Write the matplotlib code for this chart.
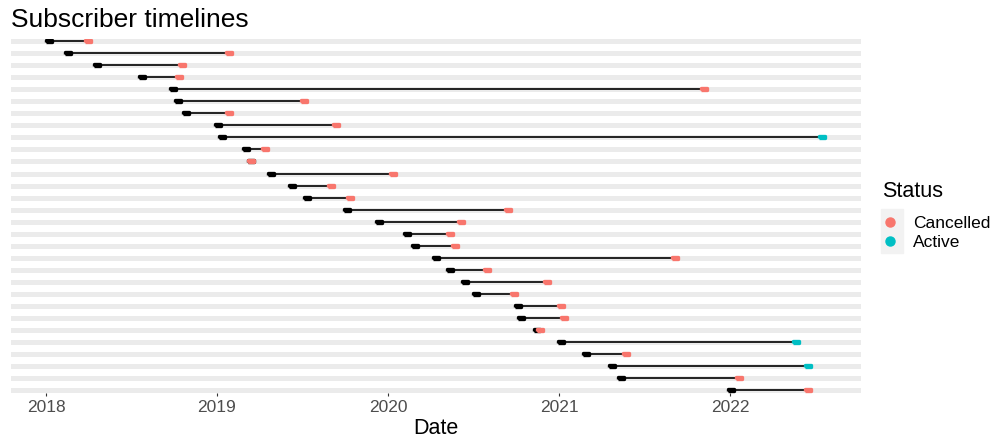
import pandas as pd
import numpy as np
import matplotlib
matplotlib.use('Agg')
import matplotlib.pyplot as plt
import matplotlib.dates as mdates
from matplotlib.markers import MarkerStyle
from matplotlib.lines import Line2D
from matplotlib.patches import Rectangle

plt.rcParams['font.family'] = ['Liberation Sans', 'DejaVu Sans']

# one row per subscriber, top to bottom
start_dates = ['2018-01-08', '2018-02-17', '2018-04-20', '2018-07-24', '2018-09-28',
               '2018-10-09', '2018-10-27', '2019-01-04', '2019-01-12', '2019-03-04',
               '2019-03-15', '2019-04-27', '2019-06-10', '2019-07-13', '2019-10-05',
               '2019-12-13', '2020-02-10', '2020-02-28', '2020-04-12', '2020-05-12',
               '2020-06-14', '2020-07-06', '2020-10-05', '2020-10-12', '2020-11-14',
               '2021-01-04', '2021-02-28', '2021-04-23', '2021-05-12', '2022-01-02']
end_dates = ['2018-04-01', '2019-01-26', '2018-10-19', '2018-10-12', '2021-11-06',
             '2019-07-05', '2019-01-26', '2019-09-13', '2022-07-16', '2019-04-13',
             '2019-03-15', '2020-01-12', '2019-09-02', '2019-10-12', '2020-09-13',
             '2020-06-06', '2020-05-12', '2020-05-23', '2021-09-06', '2020-07-31',
             '2020-12-06', '2020-09-27', '2021-01-04', '2021-01-12', '2020-11-21',
             '2022-05-22', '2021-05-23', '2022-06-17', '2022-01-19', '2022-06-17']
status = ['Cancelled'] * 8 + ['Active'] + ['Cancelled'] * 16 + ['Active', 'Cancelled',
          'Active', 'Cancelled', 'Cancelled']

status_colors = {'Cancelled': '#F8766D', 'Active': '#00BFC4'}

df = pd.DataFrame({'start': pd.to_datetime(start_dates),
                   'end': pd.to_datetime(end_dates),
                   'status': status})
df['row'] = np.arange(len(df))

fig = plt.figure(figsize=(10, 4.47), dpi=100)
ax = fig.add_axes([0.0107, 0.1219, 0.85, 0.7917])

pill = MarkerStyle([(-1, -0.3), (1, -0.3), (1, 0.3), (-1, 0.3), (-1, -0.3)], joinstyle='round')

for _, r in df.iterrows():
    ax.plot([r.start, r.end], [r.row, r.row], color='black', lw=1.2, zorder=2)
    ax.plot([r.start], [r.row], linestyle='none', marker=pill, ms=4.8,
            mfc='black', mec='black', mew=2.4, zorder=3)
    c = status_colors[r.status]
    ax.plot([r.end], [r.row], linestyle='none', marker=pill, ms=4.8,
            mfc=c, mec=c, mew=2.4, zorder=4)

ax.margins(x=0.05)
ax.set_ylim(len(df) - 1 + 0.225, -0.225)
ax.set_yticks(df.row)
ax.yaxis.grid(True, color='#EBEBEB', lw=3.6)
ax.set_axisbelow(True)
ax.tick_params(axis='y', length=0, labelleft=False)

ax.xaxis.set_major_locator(mdates.YearLocator())
ax.xaxis.set_major_formatter(mdates.DateFormatter('%Y'))
ax.tick_params(axis='x', length=2.2, width=0.8, color='#333333',
               labelcolor='#4D4D4D', labelsize=12.5, pad=3)
for s in ax.spines.values():
    s.set_visible(False)

fig.text(0.0107, 1 - 26.7 / 447, 'Subscriber timelines', fontsize=19, va='baseline')
fig.text(0.436, 1 - 434.3 / 447, 'Date', fontsize=15.5, va='baseline', ha='center')

# legend
fig.text(0.882, 1 - 197 / 447, 'Status', fontsize=15.5, va='baseline')
fig.patches.append(Rectangle((0.881, 1 - 253 / 447), 0.022, 44 / 447,
                             transform=fig.transFigure, color='#F2F2F2', zorder=0))
handles = [Line2D([], [], linestyle='none', marker='o', ms=6.5, color=status_colors[k])
           for k in status_colors]
fig.legend(handles, list(status_colors), loc='upper left',
           bbox_to_anchor=(0.880, 1 - 216 / 447), frameon=False, fontsize=12.5,
           handlelength=1.2, handletextpad=0.7, labelspacing=0.2,
           borderpad=0, borderaxespad=0)

fig.savefig('out.png', dpi=100)
